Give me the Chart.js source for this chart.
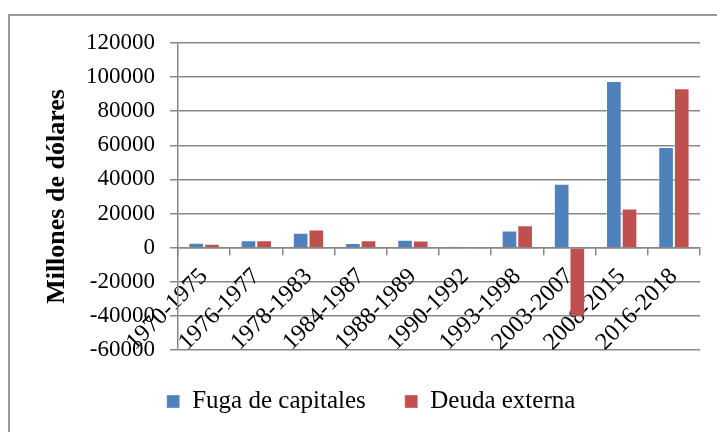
<!DOCTYPE html>
<html>
<head>
<meta charset="utf-8">
<script src="https://cdn.jsdelivr.net/npm/chart.js@4"></script>
<style>
  body { margin: 0; background: #fff; overflow: hidden; }
  #marco { position: absolute; left: 8px; top: 14px; width: 800px; height: 500px; border: 2px solid #999; box-sizing: border-box; }
  #contenedor { position: absolute; left: 0; top: 0; width: 717px; height: 432px; }
</style>
</head>
<body>
<div id="marco"></div>
<div id="contenedor"><canvas id="myChart" width="717" height="432"></canvas></div>
<script>
const categorias = ["1970-1975", "1976-1977", "1978-1983", "1984-1987", "1988-1989", "1990-1992", "1993-1998", "2003-2007", "2008-2015", "2016-2018"];
const fugaCapitales = [2900, 4300, 8800, 2700, 4600, 500, 10100, 37500, 97700, 59000];
const deudaExterna = [2300, 4300, 10700, 4400, 4200, -800, 13200, -40500, 23000, 93400];
const nombresSeries = ["Fuga de capitales", "Deuda externa"];
const tituloEjeY = "Millones de dólares";

const fuente = "'Liberation Serif', 'Times New Roman', serif";
const gris = "#878787";

const config = {
  type: "bar",
  data: {
    labels: categorias,
    datasets: [
      { label: nombresSeries[0], data: fugaCapitales, backgroundColor: "#4F81BD", borderColor: "rgba(255,255,255,0.35)", borderWidth: 1 },
      { label: nombresSeries[1], data: deudaExterna, backgroundColor: "#C0504D", borderColor: "rgba(255,255,255,0.35)", borderWidth: 1 }
    ]
  },
  options: {
    responsive: false,
    animation: false,
    layout: { padding: { top: 43, right: 17, left: 42, bottom: 8 } },
    datasets: { bar: { categoryPercentage: 0.6, barPercentage: 1 } },
    plugins: {
      legend: {
        position: "bottom",
        labels: { font: { family: fuente, size: 25 }, color: "#000", boxWidth: 13, boxHeight: 13, padding: 39 }
      },
      tooltip: { enabled: false }
    },
    scales: {
      x: {
        position: { y: 0 },
        afterFit: (escala) => { escala.height = 0; },
        grid: { offset: true, drawOnChartArea: false, drawTicks: true, tickLength: 7, color: gris, lineWidth: 1.5 },
        border: { display: true, color: gris, width: 1.5 },
        ticks: { font: { family: fuente, size: 24 }, color: "#000", minRotation: 45, maxRotation: 45, padding: 8 }
      },
      y: {
        min: -60000,
        max: 120000,
        afterFit: (escala) => { escala.width = 136; },
        ticks: { stepSize: 20000, font: { family: fuente, size: 23 }, color: "#000", padding: 15, callback: (v) => String(v) },
        grid: { color: gris, lineWidth: 1.5, tickLength: 8 },
        border: { display: true, color: gris, width: 1.5 },
        title: { display: true, text: tituloEjeY, font: { family: fuente, size: 26, weight: "bold" }, color: "#000", padding: { top: 0, bottom: 0 } }
      }
    }
  }
};

const chartDOM = document.getElementById("myChart");
new Chart(chartDOM, config);
</script>
</body>
</html>
